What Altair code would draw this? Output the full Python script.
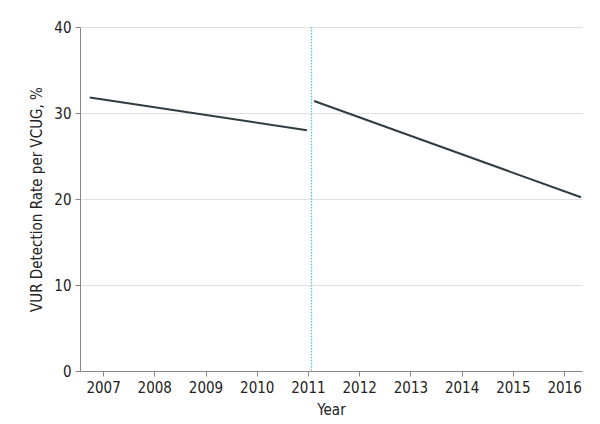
import altair as alt
import pandas as pd

# Segmented trend lines (before / after the 2011 change)
seg_id = ["before", "before", "after", "after"]
seg_year = [2006.74, 2010.98, 2011.12, 2016.33]
seg_rate = [31.8, 28.0, 31.4, 20.2]

break_year = [2011.07]
year_ticks = list(range(2007, 2017))
rate_ticks = [0, 10, 20, 30, 40]

df = pd.DataFrame({"seg": seg_id, "year": seg_year, "rate": seg_rate})
vdf = pd.DataFrame({"year": break_year})

FONT = "Liberation Sans Narrow, DejaVu Sans Condensed, Arial Narrow, sans-serif"

xscale = alt.Scale(domain=[2006.55, 2016.35], nice=False, zero=False)
yscale = alt.Scale(domain=[0, 40], nice=False)

lines = alt.Chart(df).mark_line(color="#2f3d42", strokeWidth=2).encode(
    x=alt.X("year:Q", scale=xscale,
            axis=alt.Axis(title="Year", values=year_ticks, format="d", grid=False)),
    y=alt.Y("rate:Q", scale=yscale,
            axis=alt.Axis(title="VUR Detection Rate per VCUG, %", values=rate_ticks,
                          grid=True)),
    detail="seg:N",
)

vline = alt.Chart(vdf).mark_rule(color="#4cc0e0", strokeWidth=1.3, strokeDash=[1.5, 1.5]).encode(
    x=alt.X("year:Q", scale=xscale),
)

chart = (vline + lines).properties(
    width=502, height=344,
    autosize=alt.AutoSizeParams(type="none"),
    padding={"left": 72, "top": 19, "right": 10, "bottom": 52},
).configure_view(stroke=None).configure_axis(
    labelFont=FONT, titleFont=FONT,
    labelFontSize=15, titleFontSize=15,
    labelColor="#222", titleColor="#222",
    titleFontWeight="normal",
    domainColor="#888", tickColor="#888",
    gridColor="#e0e0e0", tickSize=5, labelPadding=4,
).configure_axisY(titlePadding=9).configure_axisX(titlePadding=7)

chart.save("out.html", embed_options={"renderer": "svg", "actions": False})
